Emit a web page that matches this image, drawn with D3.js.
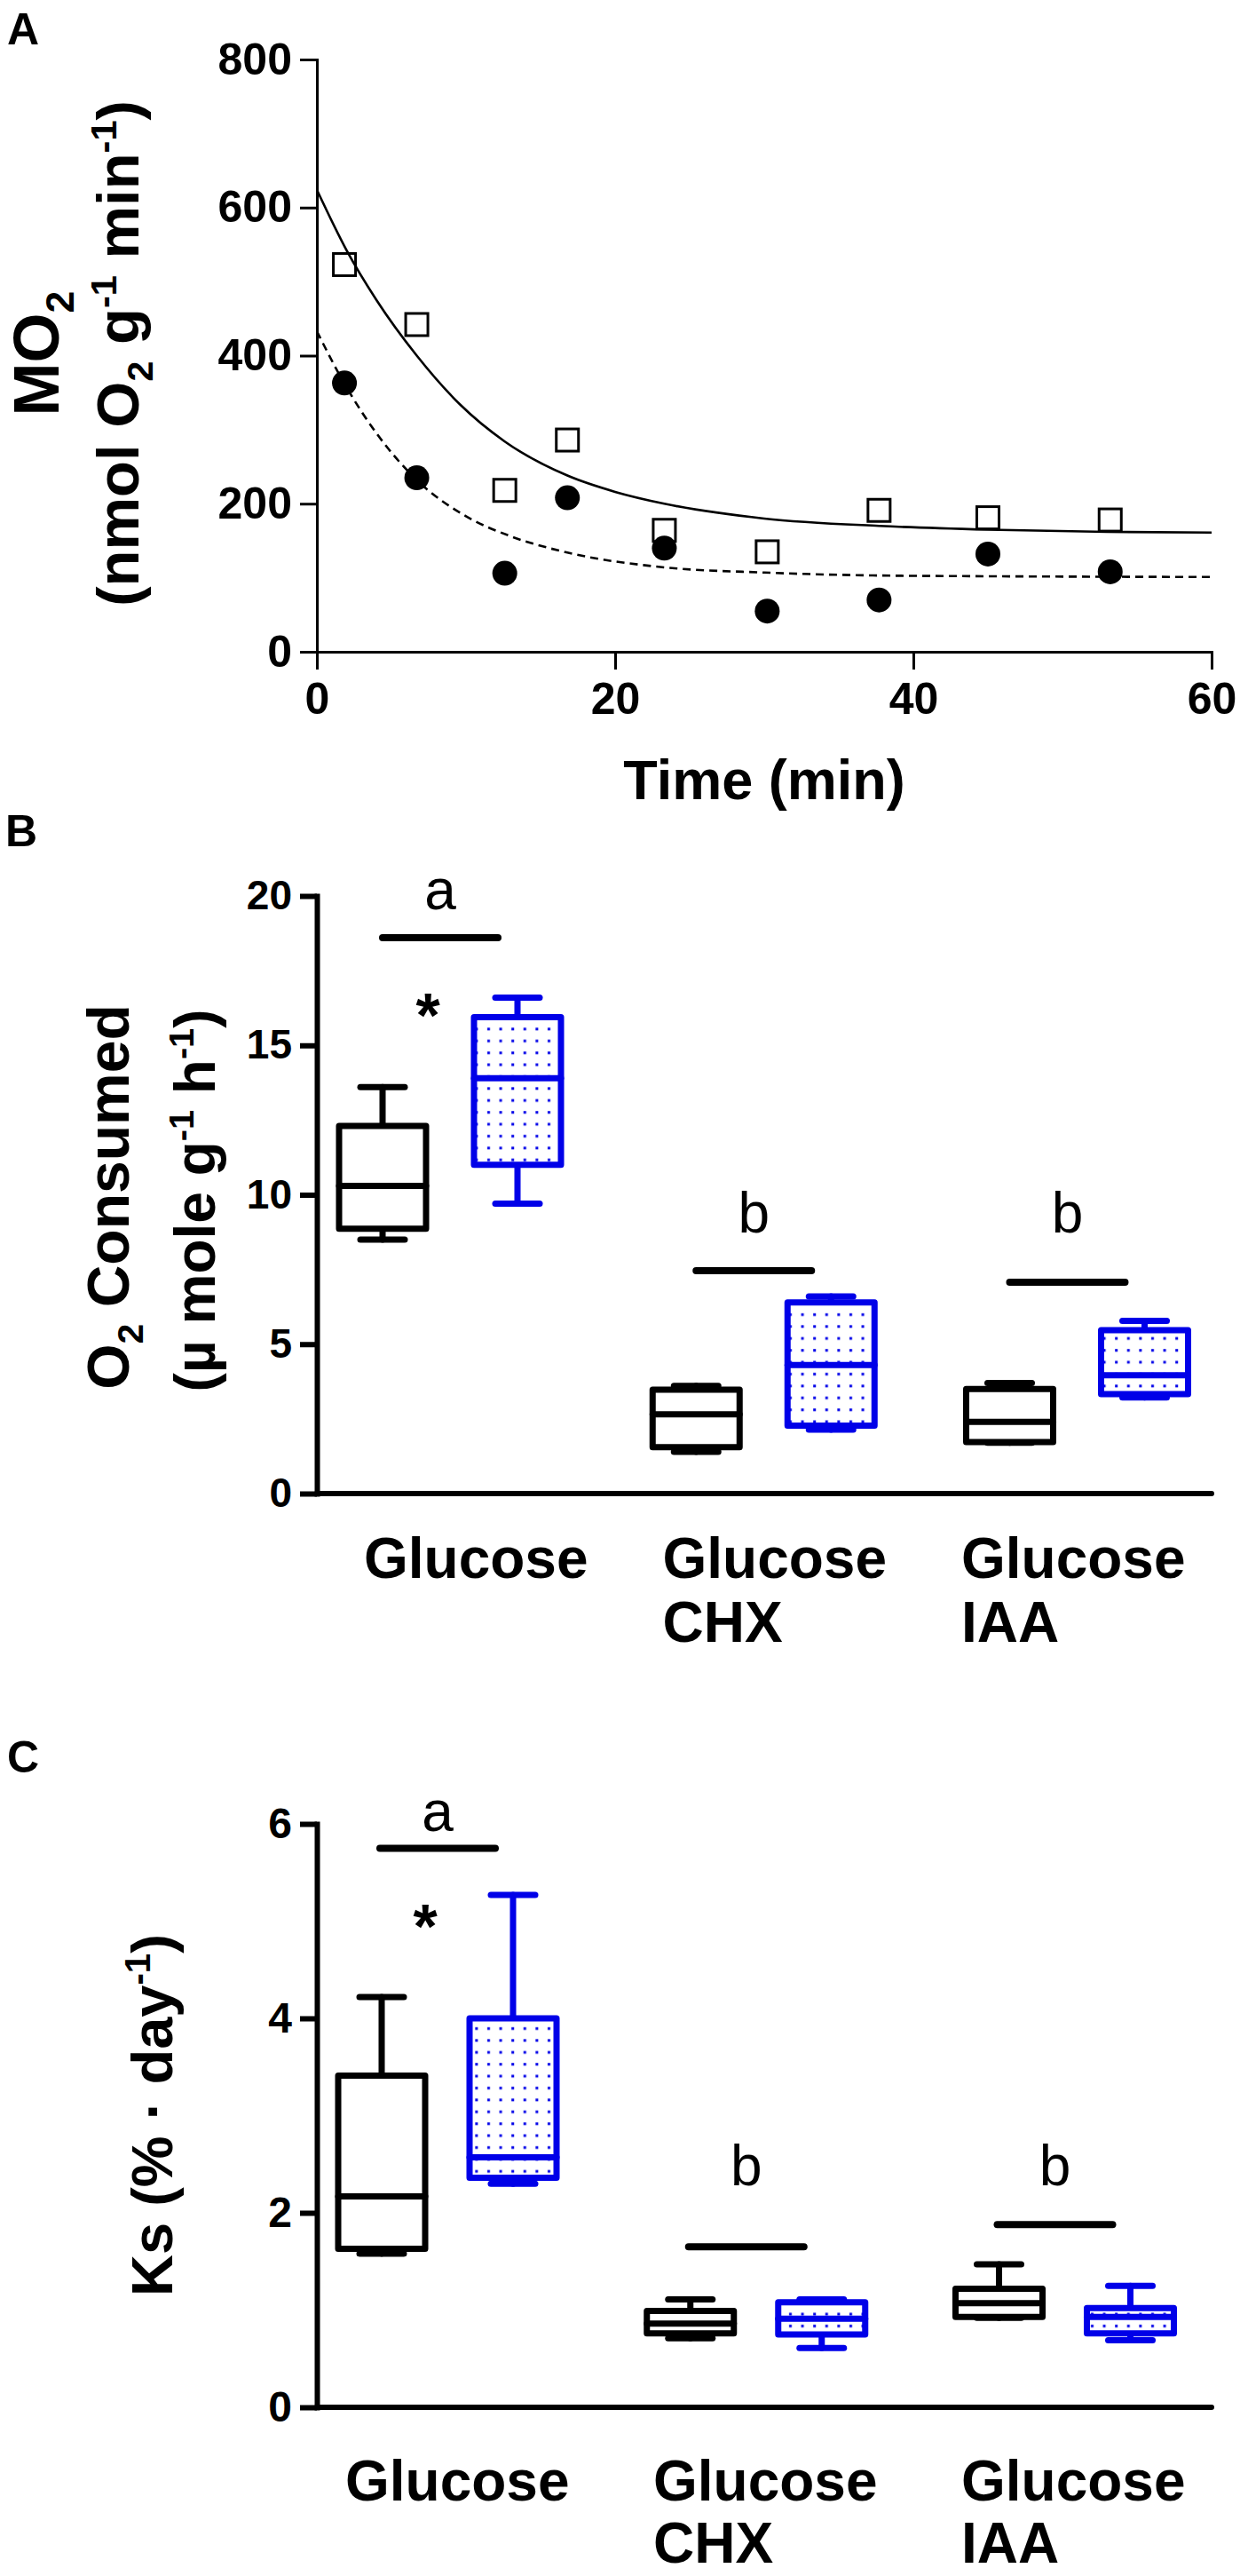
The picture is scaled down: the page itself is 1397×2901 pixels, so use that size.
<!DOCTYPE html>
<html>
<head>
<meta charset="utf-8">
<script src="https://cdn.jsdelivr.net/npm/d3@7"></script>
<style>
  body { margin: 0; background: #fff; }
  svg { display: block; }
</style>
</head>
<body>
<svg id="fig" width="1397" height="2901"></svg>
<script>
// ---------------- DATA ----------------
// Panel A: MO2 vs time
const timeTicks = [0, 20, 40, 60];
const mo2Ticks = [0, 200, 400, 600, 800];
const squareTime = [1.85, 6.7, 12.6, 16.8, 23.3, 30.2, 37.7, 45.0, 53.2];
const squareMO2 = [523, 442, 218, 286, 164, 135, 191, 181, 178];
const circleTime = [1.85, 6.7, 12.6, 16.8, 23.3, 30.2, 37.7, 45.0, 53.2];
const circleMO2 = [363, 235, 106, 208, 140, 55, 70, 132, 108];
// fitted curves
const fitSolidTime = [0, 2, 4, 6.7, 9.6, 12.6, 16.8, 20, 23.3, 30, 37.7, 45, 53, 60];
const fitSolidMO2 = [624, 542, 475, 400, 334, 284, 238, 216, 200, 180, 170, 165, 162, 161];
const fitDashedTime = [0, 1.85, 4, 6.7, 10, 13, 16.8, 23.3, 30, 37.7, 45, 60];
const fitDashedMO2 = [433, 362, 295, 232, 183, 156, 134, 114, 107, 103, 102, 101];

// Panel B / C categories (lines of each label)
const categories = ["Glucose", "Glucose CHX", "Glucose IAA"];
const categoryLines = [["Glucose"], ["Glucose", "CHX"], ["Glucose", "IAA"]];

// Panel B: O2 consumed, box stats [min, q1, median, q3, max]
const o2Ticks = [0, 5, 10, 15, 20];
const o2Black = [[8.5, 8.86, 10.3, 12.3, 13.6], [1.4, 1.55, 2.65, 3.48, 3.6], [1.7, 1.72, 2.4, 3.5, 3.7]];
const o2Blue = [[9.7, 11.0, 13.9, 15.94, 16.6], [2.14, 2.27, 4.3, 6.4, 6.6], [3.22, 3.33, 3.96, 5.47, 5.78]];
const o2Letters = ["a", "b", "b"];
const o2LetterY = [19.55, 8.75, 8.75];
const o2BarY = [18.6, 7.46, 7.07];
const o2StarY = [16.46, null, null];

// Panel C: Ks, box stats [min, q1, median, q3, max]
const ksTicks = [0, 2, 4, 6];
const ksBlack = [[1.58, 1.63, 2.17, 3.41, 4.22], [0.71, 0.76, 0.86, 0.99, 1.11], [0.92, 0.93, 1.07, 1.22, 1.47]];
const ksBlue = [[2.3, 2.36, 2.57, 4.0, 5.27], [0.61, 0.75, 0.91, 1.08, 1.11], [0.69, 0.76, 0.93, 1.02, 1.25]];
const ksLetters = ["a", "b", "b"];
const ksLetterY = [5.93, 2.28, 2.28];
const ksBarY = [5.75, 1.65, 1.88];
const ksStarY = [5.09, null, null];

// ---------------- DRAWING ----------------
const FONT = '"Liberation Sans", Arial, Helvetica, sans-serif';
const BLUE = "#0000e8";
const svg = d3.select("#fig");

const defs = svg.append("defs");
const pat = defs.append("pattern").attr("id", "dots")
  .attr("patternUnits", "userSpaceOnUse").attr("width", 13.6).attr("height", 13.4);
pat.append("rect").attr("width", 13.6).attr("height", 13.4).attr("fill", "#fff");
pat.append("rect").attr("x", 5).attr("y", 5).attr("width", 3).attr("height", 3).attr("fill", BLUE);

function styleAxis(g, width, fontSize) {
  g.select(".domain").attr("stroke", "#000").attr("stroke-width", width).attr("stroke-linecap", "square");
  g.selectAll(".tick line").attr("stroke", "#000").attr("stroke-width", width);
  g.selectAll(".tick text").attr("fill", "#000").attr("font-family", FONT)
    .attr("font-weight", "bold").attr("font-size", fontSize);
}

function rotTitle(x, y, parts, size) {
  const t = svg.append("text")
    .attr("transform", `translate(${x},${y}) rotate(-90)`)
    .attr("text-anchor", "middle").attr("font-family", FONT)
    .attr("font-weight", "bold").attr("font-size", size).attr("fill", "#000");
  let shift = 0;
  parts.forEach(([txt, kind]) => {
    let target = 0;
    if (kind === "sub") target = size * 0.24;
    if (kind === "sup") target = -size * 0.38;
    const ts = t.append("tspan").text(txt).attr("dy", target - shift);
    if (kind) ts.attr("font-size", size * 0.62);
    shift = target;
  });
  return t;
}

function panelLabel(txt, x, y) {
  svg.append("text").attr("x", x).attr("y", y).text(txt)
    .attr("font-family", FONT).attr("font-weight", "bold").attr("font-size", 50);
}

const intFmt = d3.format("d");

// ---------- Panel A ----------
panelLabel("A", 8, 50);
const xA = d3.scaleLinear().domain([0, 60]).range([357, 1365]);
const yA = d3.scaleLinear().domain([0, 800]).range([734, 67]);

const gAy = svg.append("g").attr("transform", `translate(${xA(0)},0)`)
  .call(d3.axisLeft(yA).tickValues(mo2Ticks).tickFormat(intFmt).tickSize(19).tickPadding(9).tickSizeOuter(0));
styleAxis(gAy, 3, 50);
const gAx = svg.append("g").attr("transform", `translate(0,${yA(0)})`)
  .call(d3.axisBottom(xA).tickValues(timeTicks).tickFormat(intFmt).tickSize(20).tickPadding(14).tickSizeOuter(0));
styleAxis(gAx, 3, 50);

svg.append("text").attr("x", (xA(0) + xA(60)) / 2).attr("y", 900)
  .attr("text-anchor", "middle").attr("font-family", FONT).attr("font-weight", "bold")
  .attr("font-size", 63).text("Time (min)");

rotTitle(66, 398, [["MO", ""], ["2", "sub"]], 72);
rotTitle(156, 398, [["(nmol O", ""], ["2", "sub"], [" g", ""], ["-1", "sup"], [" min", ""], ["-1", "sup"], [")", ""]], 67);

const lineA = d3.line().x(d => xA(d[0])).y(d => yA(d[1])).curve(d3.curveMonotoneX);
svg.append("path").datum(d3.zip(fitSolidTime, fitSolidMO2)).attr("d", lineA)
  .attr("fill", "none").attr("stroke", "#000").attr("stroke-width", 2.6);
svg.append("path").datum(d3.zip(fitDashedTime, fitDashedMO2)).attr("d", lineA)
  .attr("fill", "none").attr("stroke", "#000").attr("stroke-width", 2.6).attr("stroke-dasharray", "9,6");

const sqSize = 25;
svg.append("g").selectAll("rect").data(d3.zip(squareTime, squareMO2)).join("rect")
  .attr("x", d => xA(d[0]) - sqSize / 2).attr("y", d => yA(d[1]) - sqSize / 2)
  .attr("width", sqSize).attr("height", sqSize)
  .attr("fill", "none").attr("stroke", "#000").attr("stroke-width", 3);
svg.append("g").selectAll("circle").data(d3.zip(circleTime, circleMO2)).join("circle")
  .attr("cx", d => xA(d[0])).attr("cy", d => yA(d[1])).attr("r", 14).attr("fill", "#000");

// ---------- Box panels ----------
function boxPanel(cfg) {
  const y = d3.scaleLinear().domain(cfg.domain).range(cfg.yRange);
  const gc = d3.scalePoint().domain(categories).range(cfg.centerRange);
  const lx = d3.scalePoint().domain(categories).range(cfg.labelRange);
  const x0 = 357, x1 = 1365;

  // x axis line
  svg.append("line").attr("x1", x0).attr("x2", x1).attr("y1", y(0)).attr("y2", y(0))
    .attr("stroke", "#000").attr("stroke-width", 6).attr("stroke-linecap", "round");
  const gy = svg.append("g").attr("transform", `translate(${x0},0)`)
    .call(d3.axisLeft(y).tickValues(cfg.ticks).tickFormat(intFmt).tickSize(19).tickPadding(9).tickSizeOuter(0));
  styleAxis(gy, 6, cfg.tickFont);

  const boxW = 98, capW = 50, sw = 7;
  function drawBox(stats, cx, color, fill) {
    const [mn, q1, md, q3, mx] = stats;
    const g = svg.append("g").attr("stroke", color).attr("stroke-width", sw)
      .attr("stroke-linecap", "round").attr("stroke-linejoin", "round");
    g.append("line").attr("x1", cx).attr("x2", cx).attr("y1", y(mx)).attr("y2", y(q3));
    g.append("line").attr("x1", cx).attr("x2", cx).attr("y1", y(q1)).attr("y2", y(mn));
    g.append("rect").attr("x", cx - boxW / 2).attr("y", y(q3))
      .attr("width", boxW).attr("height", y(q1) - y(q3)).attr("fill", fill);
    g.append("line").attr("x1", cx - boxW / 2).attr("x2", cx + boxW / 2).attr("y1", y(md)).attr("y2", y(md));
    g.append("line").attr("x1", cx - capW / 2).attr("x2", cx + capW / 2).attr("y1", y(mx)).attr("y2", y(mx));
    g.append("line").attr("x1", cx - capW / 2).attr("x2", cx + capW / 2).attr("y1", y(mn)).attr("y2", y(mn));
  }
  categories.forEach((c, i) => {
    const cx = gc(c);
    drawBox(cfg.black[i], cx - cfg.offset, "#000", "#fff");
    drawBox(cfg.blue[i], cx + cfg.offset, BLUE, "url(#dots)");
    // significance bar + letter
    svg.append("line").attr("x1", cx - 76).attr("x2", cx + 54)
      .attr("y1", y(cfg.barY[i])).attr("y2", y(cfg.barY[i]))
      .attr("stroke", "#000").attr("stroke-width", 8).attr("stroke-linecap", "round");
    svg.append("text").attr("x", cx - 11).attr("y", y(cfg.letterY[i]))
      .attr("text-anchor", "middle").attr("font-family", FONT).attr("font-size", 64)
      .text(cfg.letters[i]);
    if (cfg.starY[i] != null) {
      svg.append("text").attr("x", cx - 25).attr("y", y(cfg.starY[i]) + 40)
        .attr("text-anchor", "middle").attr("font-family", FONT).attr("font-weight", "bold")
        .attr("font-size", 70).text("*");
    }
    // category label
    const t = svg.append("text").attr("font-family", FONT).attr("font-weight", "bold")
      .attr("font-size", 64).attr("text-anchor", "start");
    categoryLines[i].forEach((ln, k) => {
      t.append("tspan").attr("x", lx(c)).attr("y", cfg.labelY + k * cfg.lineGap).text(ln);
    });
  });
}

// ---------- Panel B ----------
panelLabel("B", 6, 953);
boxPanel({
  domain: [0, 20], yRange: [1682, 1009], ticks: o2Ticks, tickFont: 46,
  centerRange: [507, 1213.5], offset: 76, labelRange: [410, 1083],
  black: o2Black, blue: o2Blue, letters: o2Letters, letterY: o2LetterY,
  barY: o2BarY, starY: o2StarY, labelY: 1777, lineGap: 72
});
rotTitle(145, 1348, [["O", ""], ["2", "sub"], [" Consumed", ""]], 66);
rotTitle(242, 1352, [["(\u00b5 mole g", ""], ["-1", "sup"], [" h", ""], ["-1", "sup"], [")", ""]], 64);

// ---------- Panel C ----------
panelLabel("C", 8, 1996);
boxPanel({
  domain: [0, 6], yRange: [2711, 2054], ticks: ksTicks, tickFont: 48,
  centerRange: [504, 1199.5], offset: 74, labelRange: [389, 1083],
  black: ksBlack, blue: ksBlue, letters: ksLetters, letterY: ksLetterY,
  barY: ksBarY, starY: ksStarY, labelY: 2816, lineGap: 70
});
rotTitle(194, 2382, [["Ks (% \u00b7 day", ""], ["-1", "sup"], [")", ""]], 65);
</script>
</body>
</html>
